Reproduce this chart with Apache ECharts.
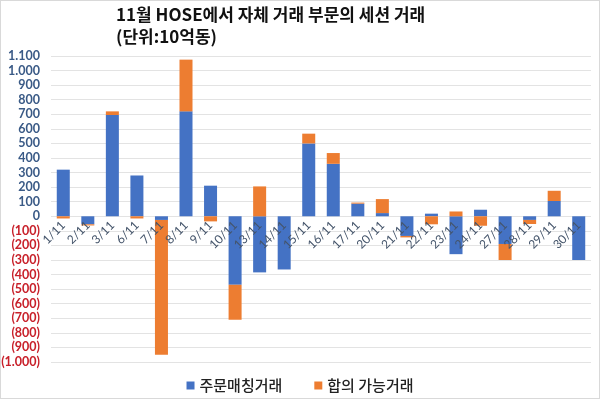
<!DOCTYPE html>
<html>
<head>
<meta charset="utf-8">
<script src="https://cdn.jsdelivr.net/npm/echarts@6/dist/echarts.min.js"></script>
<style>
    html, body { margin: 0; padding: 0; background: #fff; }
    #chart-container {
        width: 600px;
        height: 399px;
        box-sizing: border-box;
        border: 1px solid #d9d9d9;
    }
</style>
</head>
<body>
<div id="chart-container"></div>
<script>
// 거래일
var days = ["1/11", "2/11", "3/11", "6/11", "7/11", "8/11", "9/11", "10/11", "13/11", "14/11", "15/11",
    "16/11", "17/11", "20/11", "21/11", "22/11", "23/11", "24/11", "27/11", "28/11", "29/11", "30/11"];
// 주문매칭거래 (10억동)
var matchedValues = [320, -55, 695, 280, -25, 720, 210, -470, -385, -365, 500,
    360, 87, 22, -135, 18, -260, 45, -190, -25, 105, -300];
// 합의 가능거래 (10억동)
var putThroughValues = [-15, -8, 25, -15, -925, 355, -35, -240, 205, 0, 67,
    74, 7, 96, -10, -55, 33, -65, -110, -28, 70, 0];
var seriesNames = ["주문매칭거래", "합의 가능거래"];

var chartDom = document.getElementById("chart-container");
var myChart = echarts.init(chartDom);
var font = "'Noto Sans CJK KR', 'Noto Sans', sans-serif";
var numFont = "Lato, 'Noto Sans', sans-serif";

var gridTop = 55, gridBottom = 36, yMin = -1000, yMax = 1100;
// x축 라벨을 0 기준선으로 올리기
var plotH = 399 - gridTop - gridBottom;
var zeroShift = plotH * (0 - yMin) / (yMax - yMin);

function fmtNum(v) {
    var s = String(Math.abs(v)).replace(/\B(?=(\d{3})+(?!\d))/g, ".");
    return v < 0 ? "(" + s + ")" : s;
}

var option = {
    color: ["#4472C4", "#ED7D31"],
    backgroundColor: "#fff",
    textStyle: { fontFamily: font },
    title: {
        text: "11월 HOSE에서 자체 거래 부문의 세션 거래\n(단위:10억동)",
        left: 110,
        top: -2,
        textStyle: {
            fontFamily: font,
            fontSize: 17,
            fontWeight: "bold",
            color: "#111",
            lineHeight: 22,
        },
    },
    legend: {
        data: seriesNames,
        left: "center",
        top: 372,
        itemWidth: 8,
        itemHeight: 8,
        itemGap: 32,
        icon: "rect",
        textStyle: { fontFamily: font, fontSize: 15, fontWeight: 500, color: "#222" },
    },
    grid: {
        left: 50,
        right: 8,
        top: gridTop,
        bottom: gridBottom,
        outerBoundsMode: "none",
    },
    xAxis: {
        type: "category",
        data: days,
        z: 5,
        offset: -zeroShift,
        axisLine: { show: false, onZero: false },
        axisTick: { show: false },
        axisLabel: {
            rotate: 45,
            interval: 0,
            margin: 8,
            fontSize: 12,
            color: "#44546A",
            fontFamily: numFont,
        },
    },
    yAxis: {
        type: "value",
        min: yMin,
        max: yMax,
        interval: 100,
        axisLine: { show: false },
        axisTick: { show: false },
        splitLine: { lineStyle: { color: "#e3e3e3" } },
        axisLabel: {
            fontSize: 12.5,
            fontWeight: "bold",
            margin: 11,
            fontFamily: numFont,
            formatter: fmtNum,
            color: function (v) {
                return Number(v) < 0 ? "#C8202A" : "#3A5A86";
            },
        },
    },
    series: [
        {
            name: seriesNames[0],
            type: "bar",
            stack: "total",
            barCategoryGap: "47%",
            data: matchedValues,
        },
        {
            name: seriesNames[1],
            type: "bar",
            stack: "total",
            barCategoryGap: "47%",
            data: putThroughValues,
        },
    ],
};
option && myChart.setOption(option);
</script>
</body>
</html>
